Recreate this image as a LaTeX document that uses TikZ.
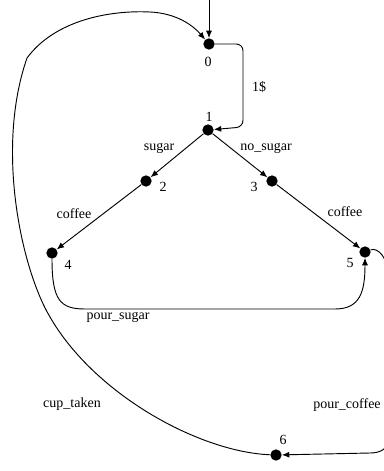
\documentclass[tikz,border=0pt]{standalone}
\usepackage{fontspec}
\setmainfont{Liberation Serif}
\usetikzlibrary{arrows.meta}
\begin{document}
\begin{tikzpicture}[x=0.75pt,y=-0.75pt,
  state/.style={circle,fill=black,inner sep=0pt,minimum size=8.5pt},
  lbl/.style={inner sep=0pt,font=\fontsize{10.5}{12}\selectfont},
  edge/.style={draw=black,line width=0.7pt,-{Latex[length=5.5pt,width=4.5pt]}}]
\useasboundingbox (0,0) rectangle (383,471);

% states
\node[state] (d0) at (209,44) {};
\node[state] (d1) at (208,130) {};
\node[state] (d2) at (146,181) {};
\node[state] (d3) at (272,181) {};
\node[state] (d4) at (52,253) {};
\node[state] (d5) at (365,252) {};
\node[state] (d6) at (276,455) {};

% state numbers
\node[lbl] (n0) at (208,62) {0};
\node[lbl] (n1) at (209,117) {1};
\node[lbl] (n2) at (163,187) {2};
\node[lbl] (n3) at (254,187) {3};
\node[lbl] (n4) at (68,265) {4};
\node[lbl] (n5) at (350,263) {5};
\node[lbl] (n6) at (283,440) {6};

% initial transition
\coordinate (init) at (209,-2);
\draw[edge] (init) -- (d0);

% 0 -> 1
\draw[edge,rounded corners=5pt] (d0) -- (243,44) -- (243,127) -- (d1);
\node[lbl] (t01) at (259,87) {1\$};

% choices
\draw[edge] (d1) -- (d2);
\node[lbl] (t12) at (159,148) {sugar};
\draw[edge] (d1) -- (d3);
\node[lbl] (t13) at (266,148) {no\_sugar};

\draw[edge] (d2) -- (d4);
\node[lbl] (t24) at (74,214) {coffee};
\draw[edge] (d3) -- (d5);
\node[lbl] (t35) at (345,212) {coffee};

% 4 -> 5
\draw[edge] (d4) .. controls (52,300) and (60,309) .. (85,309) -- (335,309)
  .. controls (360,309) and (365,292) .. (d5);
\node[lbl] (t45) at (118,317) {pour\_sugar};

% 5 -> 6
\draw[edge] (d5) .. controls (378,247) and (388,258) .. (388,275) -- (388,440)
  .. controls (388,449) and (380,453) .. (370,453) -- (d6);
\node[lbl] (t56) at (347,405) {pour\_coffee};

% 6 -> 0
\draw[edge] (d6) .. controls (200,452) and (95,395) .. (50,317)
  .. controls (22,270) and (-5,150) .. (27,58)
  .. controls (55,20) and (110,10) .. (150,12)
  .. controls (172,13) and (190,22) .. (d0);
\node[lbl] (t60) at (72,404) {cup\_taken};
\end{tikzpicture}
\end{document}
